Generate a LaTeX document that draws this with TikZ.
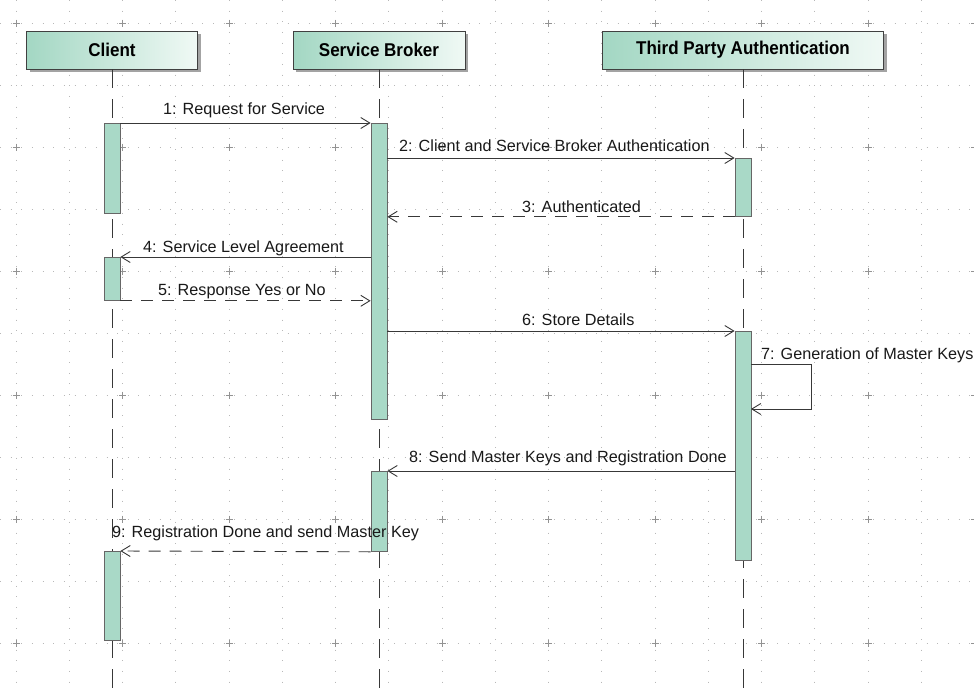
\documentclass[tikz,border=0pt]{standalone}
\usepackage{fontspec}
\setmainfont{Liberation Sans}
\newfontfamily\hdrfont[FakeStretch=0.92]{Liberation Sans}
\usetikzlibrary{arrows.meta,shadows}
\definecolor{actfill}{HTML}{A9D9C7}
\definecolor{hdrL}{HTML}{A3D7C3}
\definecolor{hdrR}{HTML}{F0F9F5}
\definecolor{gridc}{HTML}{B8B8B8}
\definecolor{linec}{HTML}{383838}
\begin{document}
\begin{tikzpicture}[x=1pt,y=-1pt,
  gridline/.style={gridc, line width=0.8pt, dash pattern=on 1pt off 9.65pt},
  gridcross/.style={gridc!80!black, line width=0.8pt},
  hdr/.style={draw=black!75, line width=0.8pt, left color=hdrL, right color=hdrR,
    minimum height=38pt, inner sep=0pt,
    font=\hdrfont\bfseries\fontsize{18.5}{20}\selectfont,
    drop shadow={shadow xshift=3pt, shadow yshift=-3pt, fill=black!40, opacity=0.9}},
  life/.style={linec, line width=0.8pt, dash pattern=on 19pt off 11pt},
  act/.style={draw=black!60, fill=actfill, minimum width=16pt, inner sep=0pt, line width=0.8pt, anchor=north},
  msg/.style={linec, line width=0.9pt, -{Straight Barb[length=9pt,width=11pt]}},
  ret/.style={msg, dash pattern=on 12pt off 9pt},
  lbl/.style={anchor=base west, inner sep=0pt, text=black!90, font=\fontsize{16.2}{18}\selectfont}
]
\useasboundingbox (0,0) rectangle (974,688);
\fill[white] (0,0) rectangle (974,688);
% grid
\foreach \i in {0,...,18} \draw[gridline] ({16+53.25*\i},0) -- ({16+53.25*\i},688);
\foreach \j in {0,...,10} \draw[gridline] (0,{23+62*\j}) -- (974,{23+62*\j});
\foreach \i in {0,...,9} \foreach \j in {0,...,5}
  \draw[gridcross] ({16+106.5*\i-3.5},{23+124*\j}) -- ++(7,0) ({16+106.5*\i},{23+124*\j-3.5}) -- ++(0,7);
% headers
\node[hdr, minimum width=171pt] (client) at (112,50) {Client};
\node[hdr, minimum width=172pt] (broker) at (379,50) {Service Broker};
\node[hdr, minimum width=281pt] (tpa) at (743,50) {Third Party Authentication};
% lifelines
\coordinate (cend) at (112,690);
\coordinate (bend) at (379,690);
\coordinate (tend) at (743,690);
\draw[life] (client.south) -- (cend);
\draw[life] (broker.south) -- (bend);
\draw[life] (tpa.south) -- (tend);
% activations
\node[act, minimum height=90pt] (c1) at (112,123) {};
\node[act, minimum height=43pt] (c2) at (112,257) {};
\node[act, minimum height=89pt] (c3) at (112,551) {};
\node[act, minimum height=296pt] (b1) at (379,123) {};
\node[act, minimum height=80pt] (b2) at (379,471) {};
\node[act, minimum height=58pt] (t1) at (743,158) {};
\node[act, minimum height=229pt] (t2) at (743,331) {};
% messages
\draw[msg] (c1.north east) -- (b1.north west);
\draw[msg] (b1.east |- t1.north) -- (t1.north west);
\draw[ret] (t1.south west) -- (b1.east |- t1.south);
\draw[msg] (b1.west |- c2.north) -- (c2.north east);
\draw[ret] (c2.south east) -- (b1.west |- c2.south);
\draw[msg] (b1.east |- t2.north) -- (t2.north west);
\coordinate (s7a) at (751,364);
\coordinate (s7r) at (811,364);
\coordinate (s7b) at (751,409);
\draw[msg] (s7a) -- (s7r) |- (s7b);
\draw[msg] (t2.west |- b2.north) -- (b2.north east);
\draw[ret] (b2.south west) -- (c3.north east);
% labels
\node[lbl] (l1) at (163,114) {1: Request for Service};
\node[lbl] (l2) at (399,151) {2: Client and Service Broker Authentication};
\node[lbl] (l3) at (522,212) {3: Authenticated};
\node[lbl] (l4) at (143,252) {4: Service Level Agreement};
\node[lbl] (l5) at (158,295) {5: Response Yes or No};
\node[lbl] (l6) at (522,325) {6: Store Details};
\node[lbl] (l7) at (761,359) {7: Generation of Master Keys};
\node[lbl] (l8) at (409,462) {8: Send Master Keys and Registration Done};
\node[lbl] (l9) at (112,537) {9: Registration Done and send Master Key};
\end{tikzpicture}
\end{document}
